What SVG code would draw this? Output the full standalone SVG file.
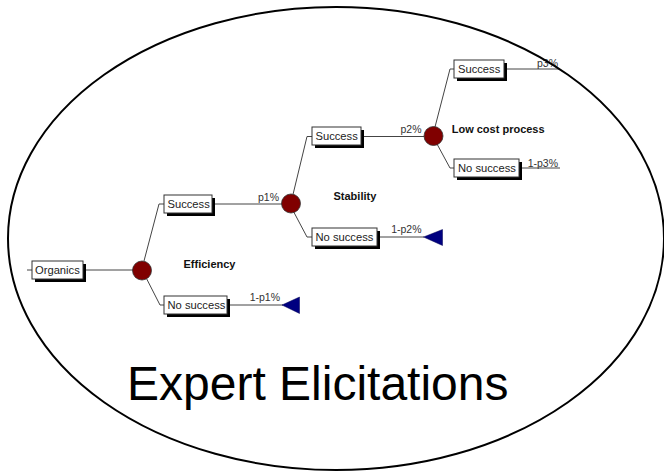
<svg xmlns="http://www.w3.org/2000/svg" width="664" height="472" viewBox="0 0 664 472">
<style>
.box{fill:#fff;stroke:#333;stroke-width:1}
.sh{fill:#000}
.bt{font-family:"Liberation Sans",Arial,sans-serif;font-size:11.2px;fill:#222}
.pl{font-family:"Liberation Sans",Arial,sans-serif;font-size:10.5px;fill:#333;text-anchor:end}
.bl{font-family:"Liberation Sans",Arial,sans-serif;font-size:11px;font-weight:bold;fill:#111}
.ch{fill:#800000;stroke:#333;stroke-width:0.8}
.tm{fill:#000080;stroke:#000050;stroke-width:0.5}
.cn{fill:none;stroke:#444;stroke-width:1}
</style>
<rect width="664" height="472" fill="#fff"/>
<g id="connectors">
<path class="cn" d="M27 270H32"/>
<path class="cn" d="M83 270H133"/>
<path class="cn" d="M144 261L159 204H164"/>
<path class="cn" d="M146.5 278.5L160 305H164"/>
<path class="cn" d="M212 204H282"/>
<path class="cn" d="M227 305H283"/>
<path class="cn" d="M293 194.5L307 136.5H312"/>
<path class="cn" d="M293.5 211.5L307 237H312"/>
<path class="cn" d="M361 136.5H424"/>
<path class="cn" d="M377 237H424"/>
<path class="cn" d="M435 127L450 69H454"/>
<path class="cn" d="M437 144L450 168H454"/>
<path class="cn" d="M504 69H560"/>
<path class="cn" d="M519 168H560"/>
</g>
<g id="organics"><rect class="sh" x="35" y="264" width="51" height="18"/><rect class="box" x="32" y="261" width="51" height="18"/><text class="bt" x="35" y="273.5">Organics</text></g>
<g id="efficiency"><circle class="ch" cx="142" cy="270.5" r="9.5"/><text class="bl" x="183.5" y="268">Efficiency</text></g>
<g id="success1"><rect class="sh" x="167" y="198" width="48" height="18"/><rect class="box" x="164" y="195" width="48" height="18"/><text class="bt" x="167.5" y="207.5">Success</text><text class="pl" x="279" y="201">p1%</text></g>
<g id="nosuccess1"><rect class="sh" x="167" y="299" width="63" height="18"/><rect class="box" x="164" y="296" width="63" height="18"/><text class="bt" x="167.5" y="308.5">No success</text><text class="pl" x="280" y="301">1-p1%</text></g>
<g id="end1"><polygon class="tm" points="282,305 299.5,297 299.5,313.5"/></g>
<g id="stability"><circle class="ch" cx="291" cy="203.5" r="9.5"/><text class="bl" x="333.5" y="200">Stability</text></g>
<g id="success2"><rect class="sh" x="315" y="130" width="49" height="18"/><rect class="box" x="312" y="127" width="49" height="18"/><text class="bt" x="315.5" y="139.5">Success</text><text class="pl" x="421.5" y="132.5">p2%</text></g>
<g id="nosuccess2"><rect class="sh" x="315" y="231" width="65" height="18"/><rect class="box" x="312" y="228" width="65" height="18"/><text class="bt" x="315.5" y="240.5">No success</text><text class="pl" x="421.5" y="233">1-p2%</text></g>
<g id="end2"><polygon class="tm" points="423.5,237 442.5,229.5 442.5,245.5"/></g>
<g id="lowcost"><circle class="ch" cx="433.5" cy="136" r="9.5"/><text class="bl" x="451.7" y="132.5">Low cost process</text></g>
<g id="success3"><rect class="sh" x="457" y="63" width="50" height="18"/><rect class="box" x="454" y="60" width="50" height="18"/><text class="bt" x="458" y="72.5">Success</text><text class="pl" x="558" y="66.5">p3%</text></g>
<g id="nosuccess3"><rect class="sh" x="457" y="162" width="65" height="18"/><rect class="box" x="454" y="159" width="65" height="18"/><text class="bt" x="458" y="171.5">No success</text><text class="pl" x="558" y="166.5">1-p3%</text></g>
<g id="frame"><ellipse cx="336" cy="238.5" rx="328" ry="231.5" fill="none" stroke="#000" stroke-width="2"/></g>
<text x="127" y="400" font-family="'Liberation Sans',Arial,sans-serif" font-size="48" fill="#000">Expert Elicitations</text>
</svg>
